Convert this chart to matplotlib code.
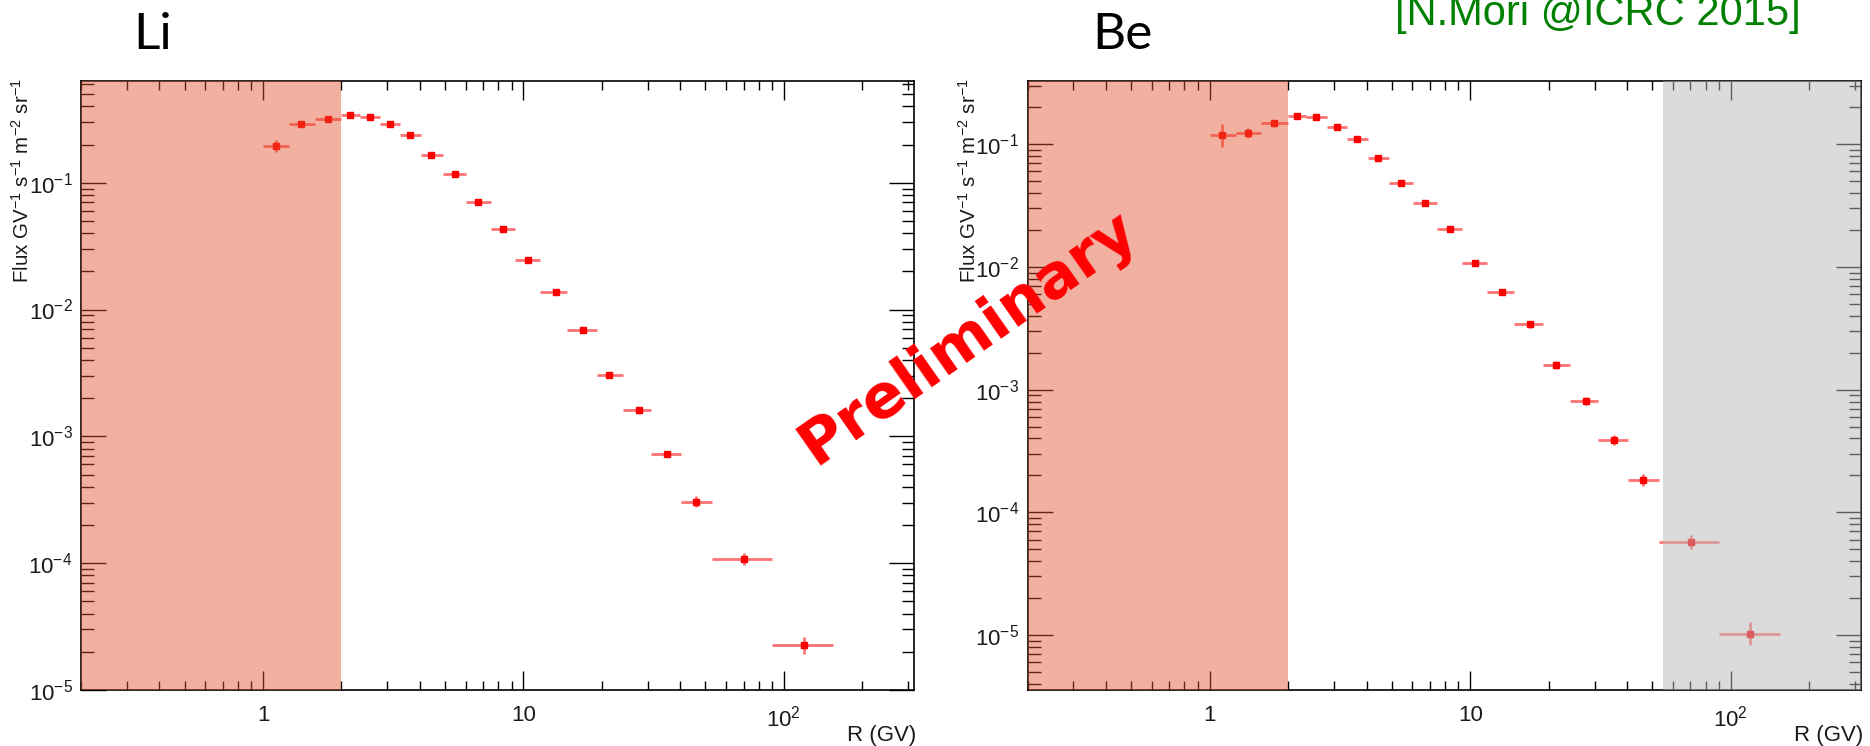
import numpy as np
import matplotlib
matplotlib.use("Agg")
import matplotlib.pyplot as plt
from matplotlib.ticker import FixedLocator, FixedFormatter, LogLocator, NullFormatter

plt.rcParams['font.family'] = ['Liberation Sans', 'DejaVu Sans']
plt.rcParams['mathtext.fontset'] = 'custom'
plt.rcParams['mathtext.rm'] = 'Liberation Sans'
plt.rcParams['mathtext.it'] = 'Liberation Sans:italic'
plt.rcParams['mathtext.bf'] = 'Liberation Sans:bold'

# ---------------- data ----------------
R_center = [1.12, 1.40, 1.77, 2.16, 2.57, 3.08, 3.68, 4.42, 5.44, 6.71,
            8.34, 10.4, 13.3, 16.9, 21.4, 27.9, 35.6, 46.0, 70.6, 119.0]
R_edges = [1.0, 1.26, 1.58, 2.0, 2.35, 2.81, 3.37, 4.04, 4.9, 6.04, 7.48,
           9.31, 11.6, 14.7, 19.1, 24.2, 31.0, 40.4, 52.8, 90.0, 155.0]

li_flux = [0.194, 0.291, 0.319, 0.340, 0.330, 0.291, 0.238, 0.165, 0.118, 0.0711,
           0.0428, 0.0248, 0.0138, 0.00694, 0.00306, 0.0016, 0.000723, 0.000306,
           0.000108, 2.25e-5]
li_relerr = [0.12, 0.05, 0.04, 0.03, 0.03, 0.03, 0.03, 0.03, 0.03, 0.03,
             0.03, 0.03, 0.04, 0.04, 0.05, 0.06, 0.06, 0.10, 0.11, 0.16]

be_flux = [0.118, 0.124, 0.148, 0.170, 0.166, 0.138, 0.110, 0.0773, 0.0487, 0.033,
           0.0202, 0.0107, 0.00623, 0.0034, 0.00159, 0.000813, 0.000388, 0.000184,
           5.74e-5, 1.02e-5]
be_relerr = [0.25, 0.10, 0.06, 0.04, 0.04, 0.04, 0.04, 0.04, 0.04, 0.04,
             0.05, 0.05, 0.06, 0.06, 0.07, 0.08, 0.10, 0.12, 0.14, 0.24]

x_range = (0.2, 316.0)
li_yrange = (1e-5, 0.634)
be_yrange = (3.56e-6, 0.328)
low_cut = 2.0          # red band upper edge (GV)
be_high_cut = 55.0     # grey band lower edge (GV)

x_ticks = [1, 10, 100]
x_ticklabels = ['1', '10', r'$10^{2}$']
li_yticks = [1e-5, 1e-4, 1e-3, 1e-2, 1e-1]
be_yticks = [1e-5, 1e-4, 1e-3, 1e-2, 1e-1]
y_ticklabels = [r'$10^{-5}$', r'$10^{-4}$', r'$10^{-3}$', r'$10^{-2}$', r'$10^{-1}$']

ylabel = r'Flux GV$^{-1}$ s$^{-1}$ m$^{-2}$ sr$^{-1}$'
xlabel = 'R (GV)'

# ---------------- figure ----------------
W, H = 1870, 746
fig = plt.figure(figsize=(W / 100, H / 100), dpi=100)

def px_axes(x0, x1, y0, y1):
    return fig.add_axes([x0 / W, 1 - y1 / H, (x1 - x0) / W, (y1 - y0) / H])

ax_li = px_axes(81, 914, 81, 690)
ax_be = px_axes(1027.5, 1861, 81, 690)

band_red = (224 / 255, 80 / 255, 44 / 255)
band_grey = (185 / 255, 185 / 255, 185 / 255)


def draw_panel(ax, flux, relerr, yrange, yticks):
    x = np.array(R_center)
    e = np.array(R_edges)
    y = np.array(flux)
    f = np.array(relerr)
    xlo = x - e[:-1]
    xhi = e[1:] - x
    ylo = y - y / (1 + f)
    yhi = y * f
    ax.errorbar(x, y, xerr=[xlo, xhi], yerr=[ylo, yhi], fmt='none',
                ecolor=(1, 0, 0, 0.55), elinewidth=2.0, capsize=0, zorder=3)
    ax.plot(x, y, 's', color='red', ms=4.2, mec='red', zorder=4)

    ax.set_xscale('log')
    ax.set_yscale('log')
    ax.set_xlim(*x_range)
    ax.set_ylim(*yrange)

    ax.xaxis.set_major_locator(FixedLocator(x_ticks))
    ax.xaxis.set_major_formatter(FixedFormatter(x_ticklabels))
    ax.xaxis.set_minor_locator(LogLocator(base=10, subs=np.arange(2, 10), numticks=20))
    ax.xaxis.set_minor_formatter(NullFormatter())
    ax.yaxis.set_major_locator(FixedLocator(yticks))
    ax.yaxis.set_major_formatter(FixedFormatter(y_ticklabels))
    ax.yaxis.set_minor_locator(LogLocator(base=10, subs=np.arange(2, 10), numticks=20))
    ax.yaxis.set_minor_formatter(NullFormatter())

    ax.tick_params(which='both', direction='in', top=True, right=True,
                   color='black', width=1.0, labelcolor='#1a1a1a')
    ax.tick_params(axis='x', which='major', length=13.5, pad=11, labelsize=16)
    ax.tick_params(axis='x', which='minor', length=6.5)
    ax.tick_params(axis='y', which='major', length=18, pad=6, labelsize=16)
    ax.tick_params(axis='y', which='minor', length=9)
    for s in ax.spines.values():
        s.set_linewidth(1.2)
        s.set_color('black')

    ax.axvspan(x_range[0], low_cut, color=band_red, alpha=0.45, lw=0, zorder=10)

    ax.text(-59 / 833, 1.005, ylabel, rotation=90, ha='center', va='top',
            fontsize=14.8, color='#1a1a1a', transform=ax.transAxes)
    ax.text(1.003, -0.058, xlabel, ha='right', va='top', fontsize=16,
            color='#1a1a1a', transform=ax.transAxes)


draw_panel(ax_li, li_flux, li_relerr, li_yrange, li_yticks)
draw_panel(ax_be, be_flux, be_relerr, be_yrange, be_yticks)
ax_be.axvspan(be_high_cut, x_range[1], color=band_grey, alpha=0.5, lw=0, zorder=10)

# titles
fig.text(133 / W, 1 - 49 / H, 'Li', fontsize=37, family='Lato', va='baseline', ha='left')
fig.text(1092 / W, 1 - 49 / H, 'Be', fontsize=37, family='Lato', va='baseline', ha='left')
fig.text(1395 / W, 1 - 25 / H, '[N.Mori @ICRC 2015]', fontsize=30, color='#008000',
         va='baseline', ha='left')

fig.text(968 / W, 1 - 338 / H, 'Preliminary', fontsize=44, color='red',
         family='DejaVu Sans', fontweight='bold', rotation=35,
         rotation_mode='anchor', ha='center', va='center', zorder=20)

fig.savefig('out.png', dpi=100)
